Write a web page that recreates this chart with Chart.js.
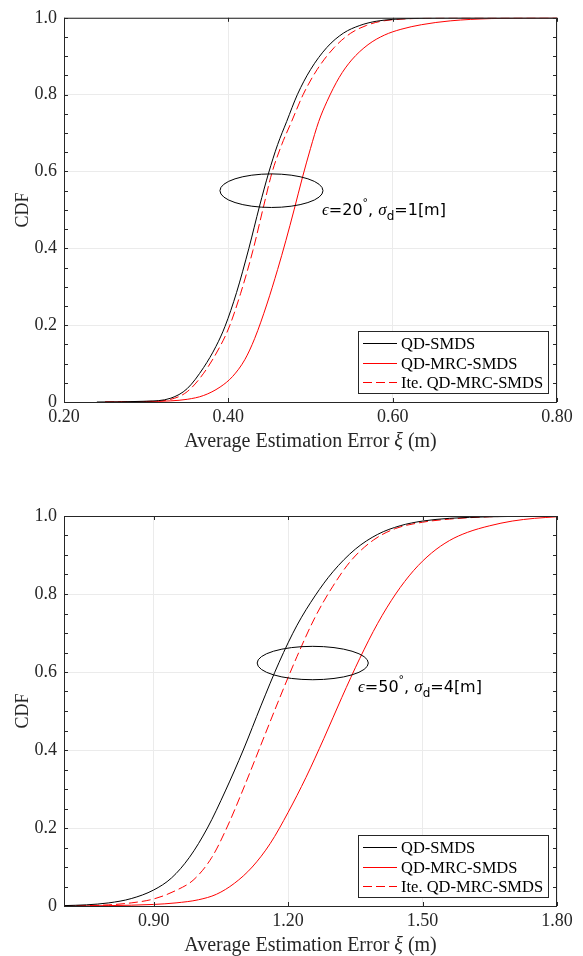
<!DOCTYPE html>
<html>
<head>
<meta charset="utf-8">
<script src="https://cdn.jsdelivr.net/npm/chart.js@4.4.0/dist/chart.umd.min.js"></script>
<style>
  body { margin: 0; background: #fff; }
  #wrap { position: relative; width: 583px; height: 956px; }
  canvas { position: absolute; left: 0; }
</style>
</head>
<body>
<div id="wrap">
  <canvas id="cdfTop" width="583" height="452" style="top:0"></canvas>
  <canvas id="cdfBottom" width="583" height="504" style="top:452px"></canvas>
</div>
<script>
// series names (same for both panels)
const seriesLabels = ['QD-SMDS', 'QD-MRC-SMDS', 'Ite. QD-MRC-SMDS'];
const yTicks = [0, 0.2, 0.4, 0.6, 0.8, 1.0];

// upper panel: eps = 20 deg, sigma_d = 1 m
const topXTicks = [0.2, 0.4, 0.6, 0.8];
const topSmdsX = [0.24, 0.30, 0.33, 0.35, 0.37, 0.385, 0.396, 0.41, 0.425, 0.438, 0.449, 0.46, 0.471, 0.484, 0.50, 0.52, 0.54, 0.56, 0.58, 0.62, 0.70, 0.80];
const topSmdsY = [0, 0.002, 0.010, 0.035, 0.09, 0.145, 0.197, 0.285, 0.40, 0.51, 0.596, 0.67, 0.73, 0.80, 0.865, 0.923, 0.96, 0.98, 0.991, 0.998, 1, 1];
const topMrcX = [0.25, 0.30, 0.33, 0.35, 0.37, 0.39, 0.405, 0.42, 0.432, 0.447, 0.46, 0.47, 0.48, 0.49, 0.50, 0.51, 0.52, 0.535, 0.55, 0.57, 0.59, 0.61, 0.635, 0.67, 0.72, 0.80];
const topMrcY = [0, 0.001, 0.003, 0.007, 0.017, 0.039, 0.066, 0.11, 0.165, 0.255, 0.345, 0.42, 0.50, 0.583, 0.66, 0.73, 0.782, 0.845, 0.89, 0.93, 0.955, 0.97, 0.982, 0.992, 0.998, 1];
const topIteX = [0.25, 0.30, 0.33, 0.35, 0.37, 0.39, 0.401, 0.415, 0.43, 0.443, 0.453, 0.465, 0.477, 0.491, 0.508, 0.529, 0.549, 0.568, 0.586, 0.625, 0.70, 0.80];
const topIteY = [0, 0.0015, 0.007, 0.027, 0.075, 0.145, 0.195, 0.283, 0.395, 0.51, 0.596, 0.67, 0.73, 0.80, 0.865, 0.923, 0.96, 0.98, 0.991, 0.998, 1, 1];

// lower panel: eps = 50 deg, sigma_d = 4 m
const bottomXTicks = [0.9, 1.2, 1.5, 1.8];
const botSmdsX = [0.70, 0.75, 0.80, 0.85, 0.90, 0.94, 0.98, 1.02, 1.06, 1.10, 1.14, 1.18, 1.22, 1.26, 1.30, 1.35, 1.40, 1.45, 1.50, 1.56, 1.65, 1.80];
const botSmdsY = [0.001, 0.003, 0.008, 0.019, 0.041, 0.072, 0.125, 0.20, 0.295, 0.40, 0.515, 0.625, 0.72, 0.795, 0.857, 0.915, 0.953, 0.975, 0.987, 0.994, 0.998, 1];
const botMrcX = [0.70, 0.80, 0.90, 0.95, 1.00, 1.04, 1.08, 1.12, 1.16, 1.20, 1.24, 1.28, 1.32, 1.36, 1.40, 1.44, 1.48, 1.52, 1.56, 1.60, 1.65, 1.70, 1.75, 1.80];
const botMrcY = [0, 0.001, 0.004, 0.008, 0.016, 0.03, 0.058, 0.10, 0.16, 0.24, 0.33, 0.43, 0.535, 0.635, 0.725, 0.80, 0.86, 0.905, 0.937, 0.958, 0.975, 0.987, 0.994, 0.998];
const botIteX = [0.70, 0.80, 0.85, 0.90, 0.95, 0.99, 1.03, 1.065, 1.10, 1.14, 1.18, 1.22, 1.26, 1.30, 1.34, 1.39, 1.44, 1.50, 1.56, 1.65, 1.80];
const botIteY = [0, 0.003, 0.008, 0.018, 0.04, 0.068, 0.125, 0.205, 0.30, 0.415, 0.53, 0.64, 0.74, 0.82, 0.885, 0.938, 0.968, 0.984, 0.992, 0.998, 1];

const AXIS = '#262626';
const SERIF = '"Liberation Serif", "Times New Roman", serif';
const SANS = '"DejaVu Sans", sans-serif';

function toPoints(xs, ys) {
    return xs.map((x, i) => ({ x: x, y: ys[i] }));
}

function line(label, xs, ys, color, dash) {
    return {
        label: label,
        data: toPoints(xs, ys),
        borderColor: color,
        borderWidth: 1,
        borderDash: dash || [],
        pointRadius: 0,
        fill: false,
        cubicInterpolationMode: 'monotone'
    };
}

// draws a row of text pieces with their own fonts / offsets, returns end x
function drawRuns(ctx, x, y, runs) {
    runs.forEach(function(r) {
        ctx.font = r.font;
        ctx.fillText(r.text, x, y + (r.dy || 0));
        x += ctx.measureText(r.text).width;
    });
    return x;
}

function runsWidth(ctx, runs) {
    let w = 0;
    runs.forEach(function(r) { ctx.font = r.font; w += ctx.measureText(r.text).width; });
    return w;
}

// box, inward ticks, boxed legend, ellipse note and axis titles
function framePlugin(xTicks, note) {
    return {
        id: 'frame',
        afterDraw: function(chart) {
            const ctx = chart.ctx;
            const a = chart.chartArea;
            const xs = chart.scales.x, ys = chart.scales.y;
            ctx.save();

            ctx.strokeStyle = AXIS;
            ctx.lineWidth = 1;
            ctx.strokeRect(a.left + 0.5, a.top + 0.5, a.right - a.left - 1, a.bottom - a.top);

            ctx.beginPath();
            xTicks.forEach(function(v) {
                const px = Math.round(xs.getPixelForValue(v)) + 0.5;
                ctx.moveTo(px, a.bottom); ctx.lineTo(px, a.bottom - 4);
                ctx.moveTo(px, a.top); ctx.lineTo(px, a.top + 4);
            });
            for (let i = 0; i <= 20; i++) {
                const py = Math.round(ys.getPixelForValue(i * 0.05)) + 0.5;
                ctx.moveTo(a.left, py); ctx.lineTo(a.left + 4, py);
                ctx.moveTo(a.right, py); ctx.lineTo(a.right - 4, py);
            }
            ctx.stroke();

            // legend
            ctx.font = '16.5px ' + SERIF;
            let tw = 0;
            chart.data.datasets.forEach(function(d) { tw = Math.max(tw, ctx.measureText(d.label).width); });
            const bw = Math.round(43 + tw + 5), bh = 62;
            const bx = Math.round(a.right - 9 - bw), by = Math.round(a.bottom - 9 - bh);
            ctx.fillStyle = '#fff';
            ctx.fillRect(bx, by, bw, bh);
            ctx.strokeStyle = AXIS;
            ctx.setLineDash([]);
            ctx.strokeRect(bx + 0.5, by + 0.5, bw, bh);
            ctx.textBaseline = 'middle';
            chart.data.datasets.forEach(function(d, i) {
                const ry = Math.round(by + 12 + i * 19.5) + 0.5;
                ctx.strokeStyle = d.borderColor;
                ctx.setLineDash(d.borderDash);
                ctx.beginPath();
                ctx.moveTo(bx + 5, ry); ctx.lineTo(bx + 39, ry);
                ctx.stroke();
                ctx.fillStyle = '#000';
                ctx.fillText(d.label, bx + 43, ry + 1);
            });
            ctx.setLineDash([]);

            // ellipse around the curves plus its caption
            const cx = xs.getPixelForValue(note.ex), cy = ys.getPixelForValue(note.ey);
            const rx = Math.abs(xs.getPixelForValue(note.ex + note.erx) - cx);
            const ry = Math.abs(ys.getPixelForValue(note.ey + note.ery) - cy);
            ctx.strokeStyle = '#000';
            ctx.beginPath();
            ctx.ellipse(cx, cy, rx, ry, 0, 0, Math.PI * 2);
            ctx.stroke();
            ctx.fillStyle = '#000';
            ctx.textBaseline = 'alphabetic';
            drawRuns(ctx, xs.getPixelForValue(note.tx), ys.getPixelForValue(note.ty), [
                { text: '\u03F5', font: 'italic 17px ' + SERIF },
                { text: '=' + note.eps, font: '16px ' + SANS },
                { text: '\u00B0', font: '11px ' + SANS, dy: -9 },
                { text: ', ', font: '16px ' + SANS },
                { text: '\u03C3', font: 'italic 17px ' + SERIF },
                { text: 'd', font: '12px ' + SANS, dy: 5 },
                { text: '=' + note.sd + '[m]', font: '16px ' + SANS }
            ]);

            // axis titles
            ctx.fillStyle = AXIS;
            const title = [
                { text: 'Average Estimation Error ', font: '20px ' + SERIF },
                { text: '\u03BE', font: 'italic 20px ' + SERIF },
                { text: ' (m)', font: '20px ' + SERIF }
            ];
            const w = runsWidth(ctx, title);
            drawRuns(ctx, (a.left + a.right) / 2 - w / 2, a.bottom + 45, title);

            ctx.translate(28, (a.top + a.bottom) / 2);
            ctx.rotate(-Math.PI / 2);
            ctx.textAlign = 'center';
            ctx.font = '18px ' + SERIF;
            ctx.fillText('CDF', 0, 0);
            ctx.restore();
        }
    };
}

function buildChart(canvasId, cfg) {
    const ctx = document.getElementById(canvasId).getContext('2d');
    return new Chart(ctx, {
        type: 'line',
        data: {
            datasets: [
                line(seriesLabels[0], cfg.s1x, cfg.s1y, '#000000'),
                line(seriesLabels[1], cfg.s2x, cfg.s2y, '#ff0000'),
                line(seriesLabels[2], cfg.s3x, cfg.s3y, '#ff0000', [9, 4])
            ]
        },
        options: {
            responsive: false,
            animation: false,
            devicePixelRatio: 1,
            layout: { padding: { top: cfg.padTop, right: 26, left: 0, bottom: 0 } },
            plugins: { legend: { display: false }, tooltip: { enabled: false } },
            scales: {
                x: {
                    type: 'linear',
                    min: cfg.xMin,
                    max: cfg.xMax,
                    afterBuildTicks: function(s) { s.ticks = cfg.xTicks.map(v => ({ value: v })); },
                    afterFit: function(s) { s.height = 50; },
                    ticks: {
                        callback: v => Number(v).toFixed(2),
                        font: { family: SERIF, size: 18 },
                        color: AXIS,
                        padding: 4,
                        maxRotation: 0,
                        autoSkip: false
                    },
                    grid: { color: '#ebebeb', drawTicks: false },
                    border: { display: false }
                },
                y: {
                    min: 0,
                    max: 1,
                    afterBuildTicks: function(s) { s.ticks = yTicks.map(v => ({ value: v })); },
                    afterFit: function(s) { s.width = 64; },
                    ticks: {
                        callback: v => (v === 0 ? '0' : Number(v).toFixed(1)),
                        font: { family: SERIF, size: 18 },
                        color: AXIS,
                        padding: 7
                    },
                    grid: { color: '#ebebeb', drawTicks: false },
                    border: { display: false }
                }
            }
        },
        plugins: [framePlugin(cfg.xTicks, cfg.note)]
    });
}

buildChart('cdfTop', {
    xMin: 0.2, xMax: 0.8, xTicks: topXTicks, padTop: 13,
    s1x: topSmdsX, s1y: topSmdsY, s2x: topMrcX, s2y: topMrcY, s3x: topIteX, s3y: topIteY,
    note: { ex: 0.4525, ey: 0.55, erx: 0.0627, ery: 0.0437, tx: 0.514, ty: 0.488, eps: '20', sd: '1' }
});

buildChart('cdfBottom', {
    xMin: 0.7, xMax: 1.8, xTicks: bottomXTicks, padTop: 64,
    s1x: botSmdsX, s1y: botSmdsY, s2x: botMrcX, s2y: botMrcY, s3x: botIteX, s3y: botIteY,
    note: { ex: 1.255, ey: 0.623, erx: 0.124, ery: 0.0428, tx: 1.356, ty: 0.549, eps: '50', sd: '4' }
});
</script>
</body>
</html>
